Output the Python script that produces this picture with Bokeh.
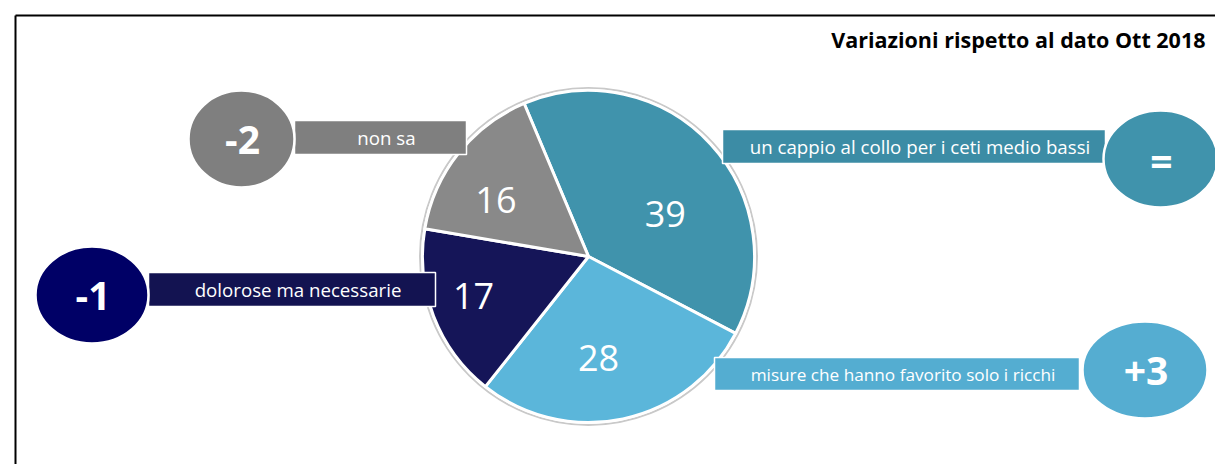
import math
from bokeh.plotting import figure
from bokeh.models import Range1d
from bokeh.core.properties import value
from bokeh.embed import file_html
from bokeh.resources import INLINE

# ---------------- data ----------------
title = "Variazioni rispetto al dato Ott 2018"
categories = ["un cappio al collo per i ceti medio bassi",
              "misure che hanno favorito solo i ricchi",
              "dolorose ma necessarie",
              "non sa"]
values = [39, 28, 17, 16]
changes = ["=", "+3", "-1", "-2"]

# ---------------- styles / layout ----------------
slice_colors = ["#4093AC", "#5BB6DA", "#151558", "#898989"]
box_colors = ["#3C8CA5", "#54ADD1", "#131351", "#7F7F7F"]
bubble_colors = ["#4093AC", "#55ADD1", "#000066", "#7F7F7F"]
box_font_sizes = ["18.7px", "17.2px", "18.7px", "18.7px"]

W, H = 1215, 464
FONT = value("Open Sans")

def Y(py):             # reference pixel y -> data y (upwards)
    return H - py

# pie geometry (reference pixels)
cx, cy, R = 588, 256, 166
start_deg = -22.8      # clockwise from 12 o'clock

# callout boxes: left, right, top, bottom (reference pixels)
boxes = [(722, 1105, 129, 163), (714, 1079, 357, 390),
         (148, 435, 272, 306), (294, 466, 120, 154)]
# callout bubbles: x, y, width, height
bubbles = [(1160, 158.5, 114, 97), (1144.5, 369.5, 125, 97),
           (91.5, 294.5, 113, 97), (241, 138.5, 106, 97)]
label_nudge = [(12, 17), (-11, 2), (-1, -4), (-8, 11)]
label_rfrac = [0.53, 0.61, 0.735, 0.65]

p = figure(width=W, height=H, output_backend="svg", toolbar_location=None,
           x_range=Range1d(0, W), y_range=Range1d(0, H),
           min_border=0, outline_line_color=None, background_fill_color="white",
           border_fill_color="white")
p.axis.visible = False
p.grid.visible = False

# frame
p.line([15, 1220], [Y(15), Y(15)], line_color="black", line_width=2)
p.line([15, 15], [Y(15), Y(470)], line_color="black", line_width=2)

# title
p.text([1205], [Y(39)], text=[title], text_font=FONT, text_font_style="bold",
       text_font_size="21.5px", text_align="right", text_baseline="middle",
       text_color="black")

# pie
total = sum(values)
acc = start_deg
starts, ends, lx, ly = [], [], [], []
for i, v in enumerate(values):
    a0 = acc
    a1 = acc + 360.0 * v / total
    acc = a1
    starts.append(math.radians(90 - a0))
    ends.append(math.radians(90 - a1))
    mid = math.radians((a0 + a1) / 2)
    r = R * label_rfrac[i]
    lx.append(cx + r * math.sin(mid) + label_nudge[i][0])
    ly.append(Y(cy - r * math.cos(mid) + label_nudge[i][1]))

p.ellipse([cx], [Y(cy)], width=[2 * R + 5], height=[2 * R + 5],
          fill_color=None, line_color="#C9C9C9", line_width=2)
p.wedge(x=[cx] * 4, y=[Y(cy)] * 4, radius=R, start_angle=starts, end_angle=ends,
        direction="clock", fill_color=slice_colors, line_color="white", line_width=3)
p.text(lx, ly, text=[str(v) for v in values], text_font=FONT,
       text_font_size="36px", text_align="center", text_baseline="middle",
       text_color="white")

# callouts
p.quad(left=[b[0] for b in boxes], right=[b[1] for b in boxes],
       top=[Y(b[2]) for b in boxes], bottom=[Y(b[3]) for b in boxes],
       fill_color=box_colors, line_color="white", line_width=1.5)
for i, b in enumerate(boxes):
    p.text([(b[0] + b[1]) / 2 + 6], [Y((b[2] + b[3]) / 2)],
           text=[categories[i]], text_font=FONT, text_font_size=box_font_sizes[i],
           text_align="center", text_baseline="middle", text_color="white")
p.ellipse([b[0] for b in bubbles], [Y(b[1]) for b in bubbles],
          width=[b[2] for b in bubbles], height=[b[3] for b in bubbles],
          fill_color=bubble_colors, line_color="white", line_width=2.5)
p.text([b[0] + 1 for b in bubbles], [Y(b[1] + 1) for b in bubbles], text=changes,
       text_font=FONT, text_font_style="bold", text_font_size="39px",
       text_align="center", text_baseline="middle", text_color="white")

open("out.html", "w").write(file_html(p, INLINE))
